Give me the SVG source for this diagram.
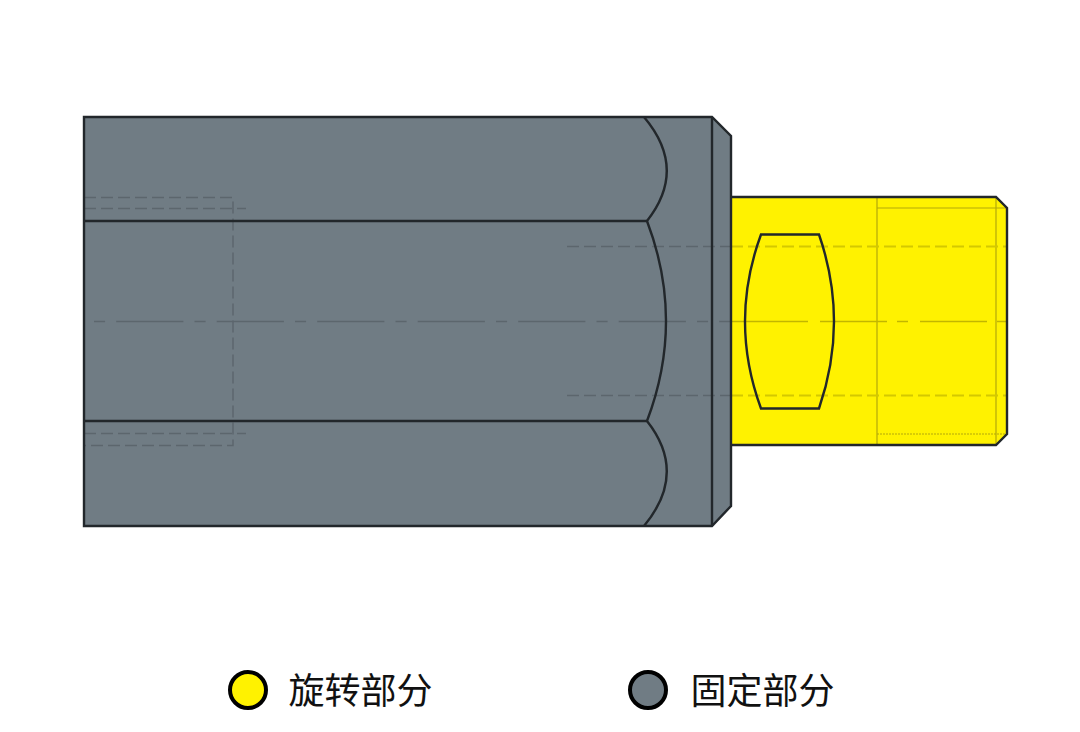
<svg xmlns="http://www.w3.org/2000/svg" width="1080" height="732" viewBox="0 0 1080 732">
<style>
.o{stroke:#22272b;stroke-width:2.4;fill:none;stroke-linejoin:miter}
.gf{fill:#707c84}
.yf{fill:#fff200}
.hg{stroke:#5c666d;stroke-width:1.5;fill:none;stroke-dasharray:12 5}
.hy{stroke:#d4c800;stroke-width:1.8;fill:none;stroke-dasharray:12 5}
.th{stroke:#b3a80a;stroke-width:1.2;fill:none}
.cg{stroke:#5c666d;stroke-width:1.5;fill:none;stroke-dasharray:11.100 11.100 67.200 11.100}
.cy{stroke:#c2b600;stroke-width:1.5;fill:none}
.t{font-family:"Noto Sans CJK SC","Noto Sans CJK TC",sans-serif;font-size:36px;fill:#111}
.d{stroke:#000;stroke-width:4}
</style>
<rect width="1080" height="732" fill="#fff"/>
<g id="shaft">
<path class="yf" d="M731 197H996L1007 208V434L996 445H731Z"/>
<path class="th" d="M877 197V445M877 208H1007M996 197V445"/>
<path class="th" d="M877 434H1007" stroke-dasharray="2 1"/>
<path class="hy" d="M731 246.500H1007M731 395.500H1007"/>
<path class="cy" d="M731 321.500H808M820 321.500H887M897 321.500H908M920 321.500H987M997 321.500H1007"/>
<path class="o" d="M731 197H996L1007 208V434L996 445H731"/>
<path id="flat" class="o" d="M761 234.500H819Q849 321.500 819 408.500H761Q729 321.500 761 234.500Z"/>
</g>
<g id="body">
<path class="gf" d="M84 117H712L731 136V506L712 526H84Z"/>
<path class="hg" d="M567 246.500H731M567 395.500H731"/>
<path class="cg" d="M94 321.500H731"/>
<path class="hg" d="M84 197.500H233V445.500H84M84 208.500H246M84 433.500H246"/>
<path class="o" d="M84 117H712L731 136V506L712 526H84Z"/>
<path class="o" d="M712 117V526M84 221H647M84 421H647"/>
<path class="o" d="M644 117Q688 169 647 221Q685 321 647 421Q688 473 644 526"/>
</g>
<g id="legend-rotating">
<circle class="d" cx="248" cy="690" r="18" fill="#fff200"/>
<text class="t" x="288.500" y="704">旋转部分</text>
</g>
<g id="legend-fixed">
<circle class="d" cx="648" cy="690" r="18" fill="#707c84"/>
<text class="t" x="690.500" y="704">固定部分</text>
</g>
</svg>
